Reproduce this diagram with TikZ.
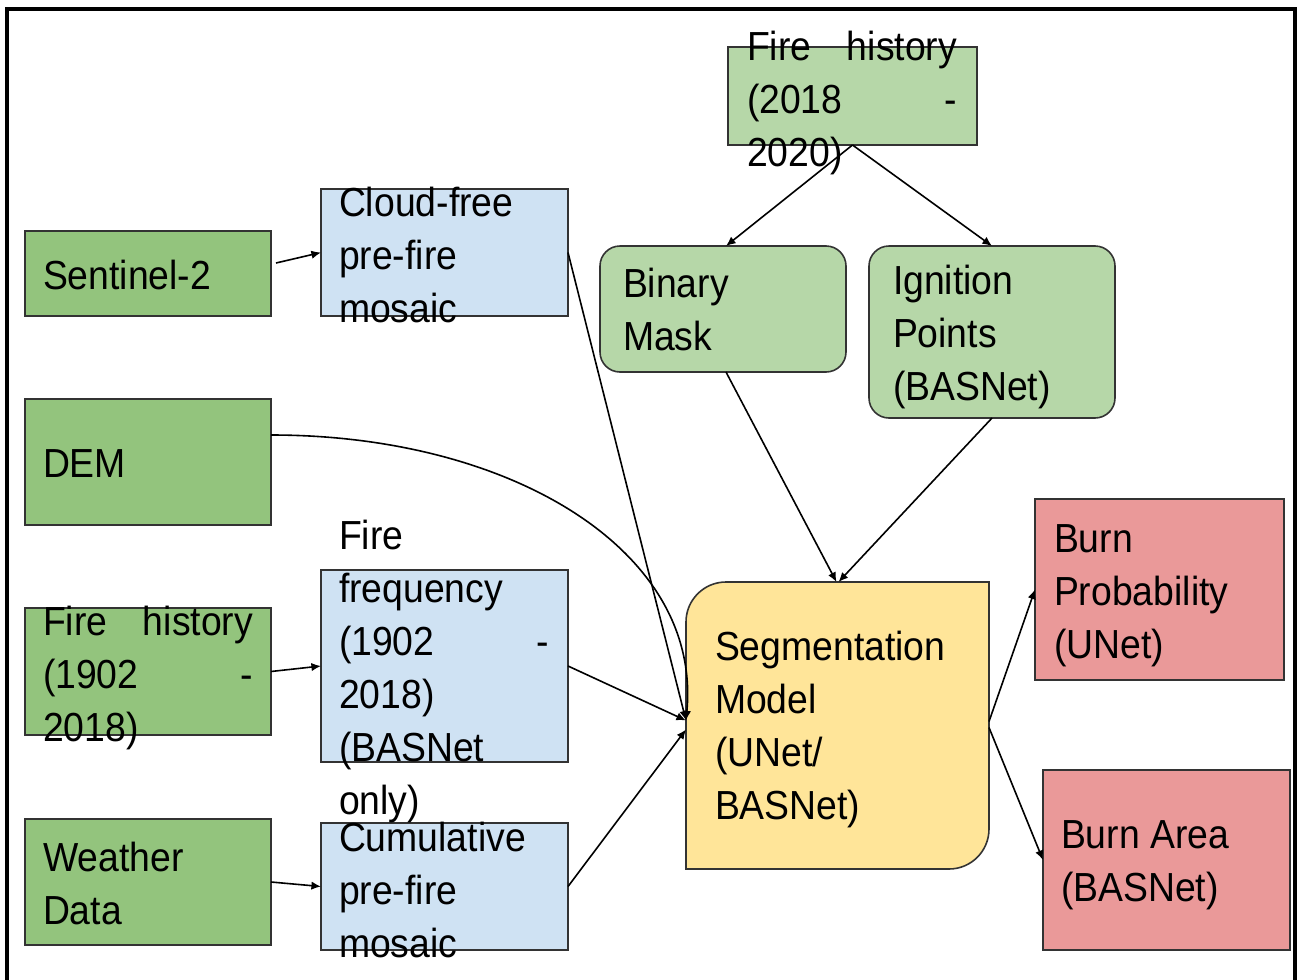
\documentclass[tikz,border=0pt]{standalone}
\usepackage{fontspec}
\setmainfont{Liberation Sans}[FakeStretch=0.92]
\usetikzlibrary{arrows.meta}
\definecolor{gdark}{HTML}{93C47D}
\definecolor{glight}{HTML}{B6D7A8}
\definecolor{bluefill}{HTML}{CFE2F3}
\definecolor{segfill}{HTML}{FFE599}
\definecolor{redfill}{HTML}{EA9999}
\begin{document}
\begin{tikzpicture}[x=0.5pt,y=-0.5pt,
  box/.style={draw=black!80, line width=0.8pt, inner sep=0pt, outer sep=0pt},
  rbox/.style={box, rounded corners=10pt},
  txt/.style={inner sep=0pt, outer sep=0pt, anchor=north west, align=left,
    font=\fontsize{20.3pt}{26.5pt}\selectfont},
  arr/.style={draw=black, line width=0.8pt, -{Latex[length=4.8pt,width=4.2pt]}}]
\useasboundingbox (0,0) rectangle (1297,980);
\fill[white] (0,0) rectangle (1297,980);
% frame
\draw[line width=2pt, line cap=butt] (7,980) -- (7,9) -- (1294.5,9) -- (1294.5,980);

% boxes
\node[box, fill=gdark, minimum width=123pt, minimum height=42.5pt] (sent) at (148,273.5) {};
\node[box, fill=bluefill, minimum width=123.5pt, minimum height=63.5pt] (cf) at (444.5,252.5) {};
\node[box, fill=gdark, minimum width=123pt, minimum height=63pt] (dem) at (148,462) {};
\node[box, fill=gdark, minimum width=123pt, minimum height=63.5pt] (fh1) at (148,671.5) {};
\node[box, fill=bluefill, minimum width=123.5pt, minimum height=96pt] (ff) at (444.5,666) {};
\node[box, fill=gdark, minimum width=123pt, minimum height=63pt] (wd) at (148,882) {};
\node[box, fill=bluefill, minimum width=123.5pt, minimum height=63.5pt] (cum) at (444.5,886.5) {};
\node[box, fill=glight, minimum width=124.5pt, minimum height=49pt] (fh2) at (852.5,96) {};
\node[rbox, fill=glight, minimum width=123pt, minimum height=63pt] (bm) at (723,309) {};
\node[rbox, fill=glight, minimum width=123pt, minimum height=86pt] (ip) at (992,332) {};
\node[inner sep=0pt, outer sep=0pt, minimum width=151.5pt, minimum height=143.5pt] (seg) at (837.5,725.5) {};
\draw[box, fill=segfill] (seg.north east) -- ([xshift=20pt]seg.north west)
  arc[start angle=90, end angle=180, radius=20pt] -- (seg.south west)
  -- ([xshift=-20pt]seg.south east)
  arc[start angle=270, end angle=360, radius=20pt] -- cycle;
\node[box, fill=redfill, minimum width=124.5pt, minimum height=90.5pt] (bp) at (1159.5,589.5) {};
\node[box, fill=redfill, minimum width=123.5pt, minimum height=90pt] (ba) at (1166.5,860) {};

% texts
\node[txt] (sentT) at (43,260) {Sentinel-2};
\node[txt] (cfT) at (339,187) {Cloud-free\\pre-fire\\mosaic};
\node[txt] (demT) at (43,450) {DEM};
\node[txt, text width=105pt] (fh1T) at (43,606) {Fire\hfill history\\(1902\hfill -\\2018)};
\node[txt, text width=105pt] (ffT) at (339,520) {Fire\\frequency\\(1902\hfill -\\2018)\\(BASNet\\only)};
\node[txt] (wdT) at (43,842) {Weather\\Data};
\node[txt] (cumT) at (339,822) {Cumulative\\pre-fire\\mosaic};
\node[txt, text width=105pt] (fh2T) at (747,31) {Fire\hfill history\\(2018\hfill -\\2020)};
\node[txt] (bmT) at (623,268) {Binary\\Mask};
\node[txt] (ipT) at (893,265) {Ignition\\Points\\(BASNet)};
\node[txt] (segT) at (715,631) {Segmentation\\Model\\(UNet/\\BASNet)};
\node[txt] (bpT) at (1054,525) {Burn\\Probability\\(UNet)};
\node[txt] (baT) at (1061,821) {Burn Area\\(BASNet)};

% connectors
\draw[arr] ([xshift=2.5pt,yshift=5.25pt]sent.east) -- (cf.west);
\draw[arr] (cf.east) -- ([yshift=2.5pt]seg.west);
\draw[arr] ([yshift=13.5pt]dem.east) .. controls +(240,0) and +(16,-170) .. ([yshift=2.5pt]seg.west);
\draw[arr] (fh1.east) -- (ff.west);
\draw[arr] (ff.east) -- ([yshift=2.5pt]seg.west);
\draw[arr] (wd.east) -- (cum.west);
\draw[arr] (cum.east) -- ([yshift=-2pt]seg.west);
\draw[arr] (fh2.south) -- ([xshift=1.5pt]bm.north);
\draw[arr] (fh2.south) -- (ip.north);
\draw[arr] ([xshift=1.5pt]bm.south) -- ([xshift=-0.5pt]seg.north);
\draw[arr] (ip.south) -- ([xshift=0.5pt]seg.north);
\draw[arr] ([yshift=2pt]seg.east) -- (bp.west);
\draw[arr] ([yshift=-1pt]seg.east) -- (ba.west);
\end{tikzpicture}
\end{document}
